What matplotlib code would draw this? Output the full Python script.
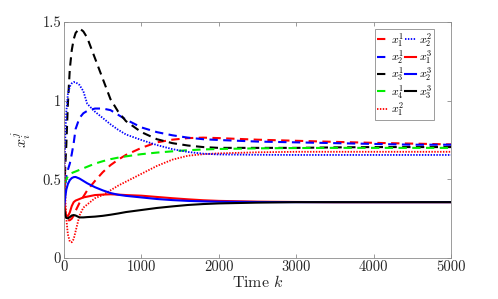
#!/usr/bin/env python3

import matplotlib
matplotlib.use("Agg")
import matplotlib.pyplot as plt

plt.rcParams["font.family"] = "serif"
plt.rcParams["font.serif"] = ["cmr10", "DejaVu Serif"]
plt.rcParams["mathtext.fontset"] = "cm"
plt.rcParams["axes.unicode_minus"] = False
plt.rcParams["axes.formatter.use_mathtext"] = True

# time steps (shared by all series)
k = [0, 10, 20, 30, 50, 75, 100, 125, 150, 200, 250, 300, 400, 500, 600, 700,
     800, 1000, 1200, 1400, 1600, 1800, 2000, 2500, 3000, 3500, 4000, 4500, 5000]

x11 = [0.32, 0.28, 0.26, 0.25, 0.24, 0.24, 0.25, 0.27, 0.30, 0.35, 0.39, 0.43,
       0.49, 0.545, 0.59, 0.625, 0.655, 0.70, 0.735, 0.752, 0.762, 0.765, 0.762,
       0.752, 0.745, 0.738, 0.732, 0.727, 0.722]
x21 = [0.30, 0.40, 0.47, 0.52, 0.56, 0.60, 0.66, 0.73, 0.82, 0.89, 0.92, 0.935,
       0.95, 0.95, 0.94, 0.91, 0.88, 0.83, 0.80, 0.78, 0.765, 0.755, 0.75,
       0.74, 0.735, 0.73, 0.725, 0.72, 0.72]
x31 = [0.35, 0.50, 0.62, 0.72, 0.98, 1.20, 1.32, 1.39, 1.43, 1.46, 1.44, 1.40,
       1.27, 1.14, 1.01, 0.93, 0.87, 0.80, 0.755, 0.73, 0.715, 0.705, 0.70,
       0.70, 0.70, 0.703, 0.705, 0.705, 0.705]
x41 = [0.47, 0.48, 0.49, 0.50, 0.52, 0.535, 0.54, 0.545, 0.55, 0.56, 0.57, 0.58,
       0.60, 0.615, 0.628, 0.638, 0.646, 0.66, 0.67, 0.678, 0.685, 0.69, 0.693,
       0.697, 0.699, 0.70, 0.70, 0.70, 0.70]
x12 = [0.92, 0.55, 0.35, 0.25, 0.15, 0.105, 0.10, 0.12, 0.17, 0.27, 0.32, 0.34,
       0.38, 0.40, 0.43, 0.46, 0.485, 0.535, 0.585, 0.625, 0.65, 0.66, 0.665,
       0.672, 0.675, 0.675, 0.675, 0.675, 0.675]
x22 = [0.45, 0.65, 0.82, 0.93, 1.04, 1.09, 1.11, 1.118, 1.117, 1.10, 1.06, 0.98,
       0.93, 0.89, 0.85, 0.815, 0.785, 0.75, 0.718, 0.692, 0.674, 0.663, 0.658,
       0.656, 0.655, 0.655, 0.655, 0.655, 0.655]
x13 = [0.38, 0.33, 0.29, 0.27, 0.265, 0.29, 0.33, 0.355, 0.365, 0.375, 0.385,
       0.39, 0.40, 0.403, 0.405, 0.403, 0.40, 0.396, 0.388, 0.38, 0.373, 0.367,
       0.363, 0.358, 0.356, 0.355, 0.355, 0.355, 0.355]
x23 = [0.32, 0.36, 0.40, 0.435, 0.47, 0.495, 0.508, 0.514, 0.515, 0.505, 0.49,
       0.475, 0.45, 0.43, 0.413, 0.402, 0.395, 0.385, 0.375, 0.368, 0.363, 0.36,
       0.358, 0.356, 0.355, 0.355, 0.355, 0.355, 0.355]
x33 = [0.32, 0.29, 0.265, 0.255, 0.252, 0.26, 0.27, 0.273, 0.27, 0.258, 0.258,
       0.26, 0.263, 0.268, 0.275, 0.283, 0.292, 0.305, 0.318, 0.328, 0.337,
       0.343, 0.347, 0.352, 0.355, 0.355, 0.355, 0.355, 0.355]

labels = [r"$x_1^1$", r"$x_2^1$", r"$x_3^1$", r"$x_4^1$", r"$x_1^2$",
          r"$x_2^2$", r"$x_1^3$", r"$x_2^3$", r"$x_3^3$"]
xticks = [0, 1000, 2000, 3000, 4000, 5000]
yticks = [0, 0.5, 1, 1.5]
ytick_labels = ["0", "0.5", "1", "1.5"]

fig = plt.figure(figsize=(4.98, 2.99), dpi=100)
ax = fig.add_axes([64 / 498, 41 / 299, 387 / 498, 236 / 299])

dash = (0, (4, 2.6))
dot = (0, (0.8, 0.8))
styles = [("red", dash, 1.5), ("blue", dash, 1.5), ("black", dash, 1.5),
          ("#00ee00", dash, 1.5), ("red", dot, 1.3), ("blue", dot, 1.3),
          ("red", "-", 1.5), ("blue", "-", 1.5), ("black", "-", 1.5)]
series = [x11, x21, x31, x41, x12, x22, x13, x23, x33]

for ys, (c, ls, lw), lab in zip(series, styles, labels):
    ax.plot(k, ys, color=c, linestyle=ls, linewidth=lw, label=lab)

ax.set_xlim(0, 5000)
ax.set_ylim(0, 1.5)
ax.set_xticks(xticks)
ax.set_xticklabels([str(t) for t in xticks])
ax.set_yticks(yticks)
ax.set_yticklabels(ytick_labels)
ax.tick_params(direction="in", top=True, right=True, length=3, width=0.5,
               colors="0.45", labelcolor="0.15", labelsize=10.5, pad=2)
for s in ax.spines.values():
    s.set_color("0.55")
    s.set_linewidth(0.6)

ax.set_xlabel(r"Time $k$", fontsize=11.5, color="0.15", labelpad=0)
ax.set_ylabel(r"$x_i^j$", fontsize=11.5, color="0.15", labelpad=6)

leg = ax.legend(ncol=2, loc="upper right", bbox_to_anchor=(0.955, 0.97),
                fontsize=8.5, handlelength=0.9, handletextpad=0.25,
                columnspacing=0.1, labelspacing=-0.05, borderpad=0.15,
                borderaxespad=0.0, fancybox=False, framealpha=1)
leg.get_frame().set_edgecolor("0.55")
leg.get_frame().set_linewidth(0.6)

fig.savefig("out.png", dpi=100)
